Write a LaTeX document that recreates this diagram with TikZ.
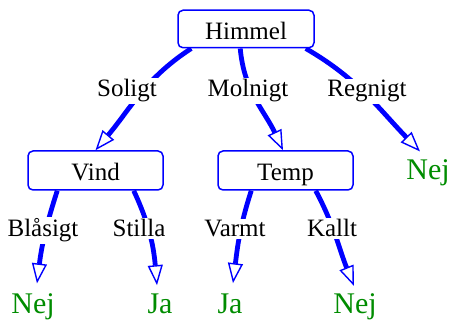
\documentclass[tikz,border=0pt]{standalone}
\usepackage{fontspec}
\setmainfont{Liberation Serif}
\usetikzlibrary{arrows.meta,backgrounds}
\definecolor{edgeblue}{RGB}{0,0,255}
\definecolor{leafgreen}{RGB}{0,140,0}
\begin{document}
\begin{tikzpicture}[x=1pt,y=1pt,
  box/.style={draw=edgeblue, line width=1.5pt, rounded corners=5pt, fill=white,
    minimum width=135pt, minimum height=39pt, inner sep=0pt,
    text height=21pt, text depth=0pt, font=\fontsize{25}{30}\selectfont},
  lbl/.style={fill=white, inner sep=1.5pt, anchor=base, font=\fontsize{25}{30}\selectfont},
  leaf/.style={text=leafgreen, inner sep=0pt, anchor=base, font=\fontsize{30}{36}\selectfont},
  edge/.style={draw=edgeblue, line width=4.8pt,
    -{Triangle[length=20pt,width=15pt,fill=white,line width=1.4pt]}},
]
\useasboundingbox (0,0) rectangle (451,321);
% decision boxes
\node[box, minimum height=37.5pt, minimum width=136pt] (himmel) at (246,292) {Himmel};
\node[box] (vind) at (95.5,150.5) {Vind};
\node[box] (temp) at (285.5,150.5) {Temp};
% leaves
\node[leaf] (nejR) at (428,141) {Nej};
\node[leaf] (nej1) at (33,7) {Nej};
\node[leaf] (ja1) at (160,7) {Ja};
\node[leaf] (ja2) at (230,7) {Ja};
\node[leaf] (nej2) at (355,7) {Nej};
% edge labels
\node[lbl] (soligt) at (127,224) {Soligt};
\node[lbl] (molnigt) at (248,224) {Molnigt};
\node[lbl] (regnigt) at (367,224) {Regnigt};
\node[lbl] (blasigt) at (43,84) {Blåsigt};
\node[lbl] (stilla) at (139,84) {Stilla};
\node[lbl] (varmt) at (235,84) {Varmt};
\node[lbl] (kallt) at (332,84) {Kallt};
% edges
\begin{scope}[on background layer]
\draw[edge] ([xshift=14pt]himmel.south west) to[out=213,in=50] (vind.north);
\draw[edge] ([xshift=63pt]himmel.south west) to[out=275,in=115] ([xshift=-2.5pt]temp.north);
\draw[edge] ([xshift=-9pt]himmel.south east) to[out=330,in=134] ([xshift=-8pt,yshift=8.5pt]nejR.north);
\draw[edge] ([xshift=30pt]vind.south west) to[out=252,in=83] ([xshift=4pt,yshift=10.5pt]nej1.north);
\draw[edge] ([xshift=-30pt]vind.south east) to[out=295,in=95] ([xshift=-3pt,yshift=9pt]ja1.north);
\draw[edge] ([xshift=34pt]temp.south west) to[out=252,in=83] ([xshift=3pt,yshift=11pt]ja2.north);
\draw[edge] ([xshift=-38pt]temp.south east) to[out=298,in=112] ([xshift=-1pt,yshift=8pt]nej2.north);
\end{scope}
\end{tikzpicture}
\end{document}
